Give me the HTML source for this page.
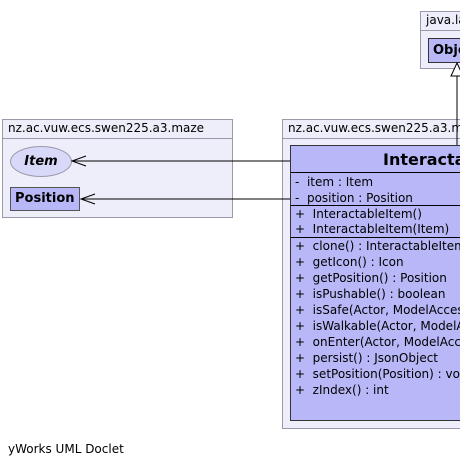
<!DOCTYPE html>
<html><head><style>
html,body{margin:0;width:460px;height:467px;overflow:hidden;}
body{background:#fff;position:relative;font-family:"DejaVu Sans","Liberation Sans",sans-serif;}
#w{position:absolute;left:0;top:0;width:460px;height:467px;overflow:hidden;}
.a{position:absolute;box-sizing:border-box;}
.pk{background:#eeeefa;border:1px solid #9999aa;}
.hd{border-bottom:1px solid #9999aa;font-size:12px;line-height:16px;padding-left:5px;white-space:nowrap;overflow:hidden;color:#000;}
.cl{background:#b8b8f8;border:1px solid #333;}
.t{position:absolute;left:4px;font-size:12px;white-space:nowrap;line-height:16px;}
.ln{position:absolute;left:0;right:0;height:0;border-top:1px solid #000;}
</style></head><body><div id="w">
<div class="a pk" style="left:420px;top:11px;width:50px;height:58px;"><div class="hd" style="height:18px;">java.lang</div></div>
<div class="a cl" style="left:428px;top:38px;width:40px;height:25px;font-weight:bold;font-size:13px;line-height:23px;padding-left:4px;">Object</div>

<div class="a pk" style="left:2px;top:119px;width:231px;height:99px;"><div class="hd" style="height:18px;">nz.ac.vuw.ecs.swen225.a3.maze</div></div>
<div class="a" style="left:10px;top:146px;width:62px;height:31px;border:1px solid #9999aa;border-radius:50%;background:#d8d8f8;font-weight:bold;font-style:italic;font-size:13px;text-align:center;line-height:29px;">Item</div>
<div class="a cl" style="left:10px;top:187px;width:70px;height:24px;font-weight:bold;font-size:13px;line-height:22px;padding-left:4px;border-color:#555;">Position</div>

<div class="a pk" style="left:282px;top:119px;width:190px;height:310px;"><div class="hd" style="height:18px;">nz.ac.vuw.ecs.swen225.a3.maze</div></div>
<div class="a cl" style="left:290px;top:145px;width:190px;height:276px;">
 <div class="t" style="left:92px;top:3px;font-weight:bold;font-size:16px;line-height:22px;">InteractableItem</div>
 <div class="ln" style="top:26px"></div>
 <div class="t" style="top:28px">-&nbsp; item : Item</div>
 <div class="t" style="top:44px">-&nbsp; position : Position</div>
 <div class="ln" style="top:59px"></div>
 <div class="t" style="top:60px">+&nbsp; InteractableItem()</div>
 <div class="t" style="top:75px">+&nbsp; InteractableItem(Item)</div>
 <div class="ln" style="top:91px"></div>
 <div class="t" style="top:92px">+&nbsp; clone() : InteractableItem</div>
 <div class="t" style="top:108px">+&nbsp; getIcon() : Icon</div>
 <div class="t" style="top:124px">+&nbsp; getPosition() : Position</div>
 <div class="t" style="top:140px">+&nbsp; isPushable() : boolean</div>
 <div class="t" style="top:156px">+&nbsp; isSafe(Actor, ModelAccess)</div>
 <div class="t" style="top:172px">+&nbsp; isWalkable(Actor, ModelAccess)</div>
 <div class="t" style="top:188px">+&nbsp; onEnter(Actor, ModelAccess)</div>
 <div class="t" style="top:204px">+&nbsp; persist() : JsonObject</div>
 <div class="t" style="top:220px">+&nbsp; setPosition(Position) : void</div>
 <div class="t" style="top:236px">+&nbsp; zIndex() : int</div>
</div>

<svg class="a" style="left:0;top:0" width="460" height="467">
 <line x1="457" y1="76" x2="457" y2="145" stroke="#000"/>
 <polygon points="457,63 451,76 463,76" fill="#fff" stroke="#000"/>
 <line x1="72" y1="161" x2="290" y2="161" stroke="#000"/>
 <polyline points="86,156 72,161 86,166" fill="none" stroke="#000"/>
 <line x1="81" y1="199" x2="290" y2="199" stroke="#000"/>
 <polyline points="95,194 81,199 95,204" fill="none" stroke="#000"/>
</svg>
<div class="a" style="left:8px;top:442px;font-size:12px;">yWorks UML Doclet</div>
</div></body></html>
